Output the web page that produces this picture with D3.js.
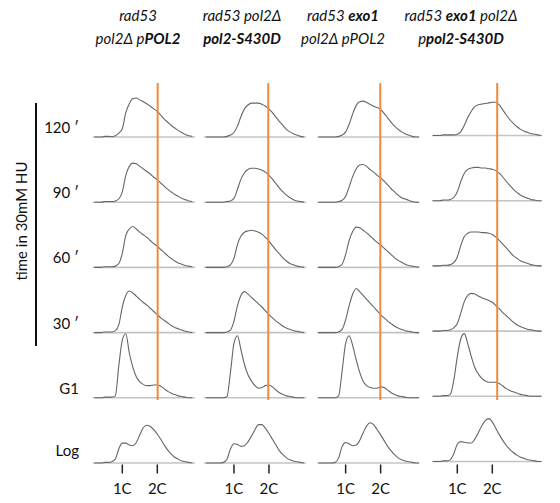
<!DOCTYPE html>
<meta charset="utf-8">
<head>
<style>
body{ margin: 0; background: #fff; }
text{ font-family: Lato, "Open Sans", sans-serif; fill: #111; }
</style>
<script src="https://cdnjs.cloudflare.com/ajax/libs/d3/7.8.5/d3.min.js"></script>
</head>
<body>
<div id="vis-container"></div>
<script>
// DNA content bins (in C units) shared by every histogram
var dnaBins = [0.2,0.3,0.4,0.5,0.6,0.7,0.8,0.9,1.0,1.1,1.2,1.3,1.4,1.5,1.6,1.7,1.8,1.9,2.0,2.1,2.2,2.3,2.4,2.5,2.6,2.7,2.8,2.9,3.0,3.1,3.2,3.3,3.4]

var rowLabels = ['120 \u2032', '90 \u2032', '60 \u2032', '30 \u2032', 'G1', 'Log']

// cell counts, % of panel height, one array per strain (4 columns)
var hist120 = [
 [0,0,0,1,1,0.5,2,6,13,38,52,60,61,58,55,52,48,44,40,34,28,23,18,14,10,7,4,2,1,0,0,0,0],
 [0,0,0,0,0,0,1,3,7,17,32,44,50,53,53,53,51,48,44,38,31,24,18,12,8,5,3,1,0,0,0,0,0],
 [0,0,0,0,0,0,1,3,8,20,36,49,55,56,54,51,48,46,43,37,30,23,17,12,8,5,3,1,0,0,0,0,0],
 [0,0,0,0,1,1,1,1,2,6,16,28,38,45,48,49,50,51,52,52,48,40,32,25,19,14,10,7,5,3,2,1,0]]
var hist90 = [
 [0,0,0,1,1,1,2,5,16,42,56,61,60,56,52,48,44,39,35,30,25,20,16,12,9,6,4,2,1,0,0,0,0],
 [0,0,0,0,0,0,1,2,6,20,36,46,51,53,53,52,50,47,42,36,29,22,16,11,7,4,2,1,0,0,0,0,0],
 [0,0,0,0,0,0,1,3,9,24,40,52,58,59,56,51,47,42,38,33,27,21,16,11,7,5,3,1,0,0,0,0,0],
 [0,0,0,0,1,1,2,5,14,30,43,49,51,52,52,51,51,50,49,47,43,37,30,24,18,13,9,6,4,2,1,0,0]]
var hist60 = [
 [0,0,0,1,1,1,2,6,22,50,60,64,60,55,51,47,42,37,33,28,23,18,14,10,7,5,3,2,1,0,0,0,0],
 [0,0,0,0,0,0,1,4,14,36,49,55,57,58,57,55,52,47,41,34,27,21,15,10,6,4,2,1,0,0,0,0,0],
 [0,0,0,0,0,0,1,5,20,42,56,63,62,58,54,49,44,39,35,30,25,20,15,11,8,5,3,2,1,0,0,0,0],
 [0,0,0,0,1,1,2,5,14,32,46,51,53,53,53,52,52,51,49,45,40,34,28,22,16,12,8,6,4,2,1,0,0]]
var hist30 = [
 [0,0,0,1,1,1,3,12,40,58,65,62,57,52,47,43,38,33,28,23,19,15,11,8,6,4,2,1,0,0,0,0,0],
 [0,0,0,0,0,0,1,4,18,42,58,64,60,55,50,45,40,34,28,23,18,14,10,7,5,3,2,1,0,0,0,0,0],
 [0,0,0,0,0,0,1,5,20,42,60,69,64,58,52,46,40,34,28,23,18,14,10,7,5,3,2,1,0,0,0,0,0],
 [0,0,0,0,1,1,2,5,12,28,46,56,59,58,55,52,50,48,45,40,35,29,24,19,14,10,7,5,3,2,1,0,0]]
var histG1 = [
 [0,0,0,1,1,1,3,50,90,100,70,48,33,25,21,19,19,20,20,18,14,10,7,5,3,2,1,0,0,0,0,0,0],
 [0,0,0,0,0,0,2,40,85,97,75,52,36,26,19,15,16,19,20,17,12,8,5,3,2,1,0,0,0,0,0,0,0],
 [0,0,0,0,0,0,3,42,85,97,82,60,40,26,19,16,15,15,17,16,12,8,5,3,2,1,0,0,0,0,0,0,0],
 [0,0,0,0,1,1,3,25,62,90,98,82,62,45,35,28,24,22,22,22,20,16,12,9,7,5,3,2,1,0,0,0,0]]
var histLog = [
 [0,0,0,1,1,2,6,22,31,31,28,27,32,44,55,59,57,52,45,37,28,20,14,9,6,3,2,1,0,0,0,0,0],
 [0,0,0,0,0,1,6,22,30,29,26,27,33,42,52,60,60,54,46,37,28,19,13,8,5,3,2,1,0,0,0,0,0],
 [0,0,0,0,0,1,8,26,32,30,27,28,35,47,58,63,60,52,44,35,26,19,13,8,5,3,2,1,0,0,0,0,0],
 [0,0,0,0,1,1,3,12,27,31,30,29,29,35,45,56,64,67,62,52,42,33,25,19,14,10,7,5,3,2,1,0,0]]

var allHists = [hist120, hist90, hist60, hist30, histG1, histLog]

// 2C gate position per column (C units)
var gateC = [2.01, 1.98, 1.99, 2.14]
var tickValues = [1, 2]
var tickLabels = ['1C', '2C']

// column titles: [text, bold?] pieces per line
var titles = [
 [[['rad53', 0]], [['pol2\u0394 p', 0], ['POL2', 1]]],
 [[['rad53 pol2\u0394', 0]], [['pol2-S430D', 1]]],
 [[['rad53 ', 0], ['exo1', 1]], [['pol2\u0394 pPOL2', 0]]],
 [[['rad53 ', 0], ['exo1', 1], [' pol2\u0394', 0]], [['p', 0], ['pol2-S430D', 1]]]
]

var width = 560, height = 503

var svg = d3.select('#vis-container').append('svg')
	.attr('width', width)
	.attr('height', height)

// x of 1C in each column, baseline of each row
var colX = d3.scalePoint().domain([0, 1, 2, 3]).range([122.3, 457.3])
var rowY = d3.scalePoint().domain(rowLabels).range([137, 463])
var colDy = [0, 0, 0, -1.5]
var colExtent = [[0.16, 3.08], [0.14, 3.06], [0.24, 3.1], [0.28, 3.42]]

var x = d3.scaleLinear().domain([1, 2]).range([0, 35])
var y = d3.scaleLinear().domain([0, 100]).range([0, -64])

var line = d3.line()
	.x(function(d) { return x(d[0]) })
	.y(function(d) { return y(d[1]) })
	.curve(d3.curveMonotoneX)

rowLabels.forEach(function(r, ri){
	for (var c = 0; c < 4; c++){
		var ext = colExtent[c]
		var g = svg.append('g')
			.attr('transform', 'translate(' + colX(c) + ',' + (rowY(r) + colDy[c]) + ')')
		g.append('line')
			.attr('x1', x(ext[0])).attr('x2', x(ext[1]))
			.attr('y1', 0).attr('y2', 0)
			.attr('stroke', '#c4c4c4')
			.attr('stroke-width', 1.6)
		var pts = dnaBins.map(function(b, i){ return [b, allHists[ri][c][i]] })
			.filter(function(d){ return d[0] >= ext[0] - 0.05 && d[0] <= ext[1] + 0.01 })
		g.append('path')
			.attr('d', line(pts))
			.attr('fill', 'none')
			.attr('stroke', '#666')
			.attr('stroke-width', 1.1)
	}
	svg.append('text')
		.attr('x', 79)
		.attr('y', rowY(r) - (r == 'Log' ? 7 : 4))
		.attr('text-anchor', 'end')
		.style('font-size', '15px')
		.text(r)
})

// orange 2C gates
for (var c = 0; c < 4; c++){
	svg.append('line')
		.attr('x1', colX(c) + x(gateC[c])).attr('x2', colX(c) + x(gateC[c]))
		.attr('y1', 83).attr('y2', 400)
		.attr('stroke', '#f08a3c')
		.attr('stroke-width', 2)
}

// 1C / 2C ticks under the Log row
var logY = rowY('Log')
for (var c = 0; c < 4; c++){
	tickValues.forEach(function(t, i){
		var tx = colX(c) + x(t)
		svg.append('line')
			.attr('x1', tx).attr('x2', tx)
			.attr('y1', logY + 1.5).attr('y2', logY + 10.5)
			.attr('stroke', '#222')
			.attr('stroke-width', 1.5)
		svg.append('text')
			.attr('x', tx)
			.attr('y', logY + 31)
			.attr('text-anchor', 'middle')
			.style('font-size', '15px')
			.text(tickLabels[i])
	})
}

// column titles
var titleX = [138, 242, 343, 461]
titles.forEach(function(t, c){
	t.forEach(function(lineParts, li){
		var txt = svg.append('text')
			.attr('x', titleX[c])
			.attr('y', li == 0 ? 21 : 44)
			.attr('text-anchor', 'middle')
			.style('font-size', '15px')
			.style('font-style', 'italic')
		lineParts.forEach(function(p){
			txt.append('tspan')
				.style('font-weight', p[1] ? 'bold' : 'normal')
				.text(p[0])
		})
	})
})

// time axis
svg.append('line')
	.attr('x1', 36).attr('x2', 36)
	.attr('y1', 103).attr('y2', 346)
	.attr('stroke', '#111')
	.attr('stroke-width', 2)

svg.append('text')
	.attr('transform', 'translate(27,221) rotate(-90)')
	.attr('text-anchor', 'middle')
	.style('font-size', '15px')
	.text('time in 30mM HU')
</script>
</body>
</html>
